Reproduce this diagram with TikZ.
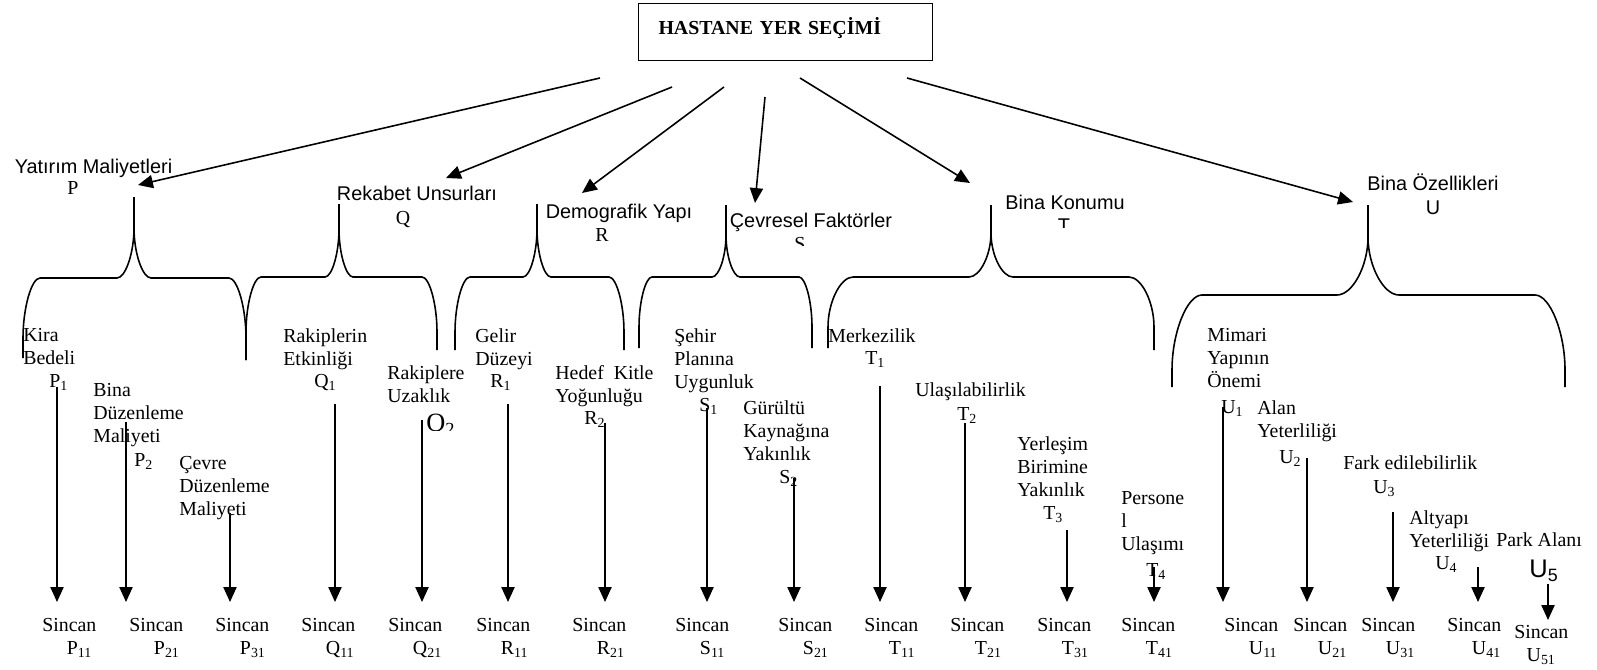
\documentclass[tikz,border=0pt]{standalone}
\usepackage{fontspec}
\setmainfont{Liberation Serif}
\setsansfont{Liberation Sans}
\usetikzlibrary{arrows.meta}
\tikzset{
  cat/.style={font=\sffamily\fontsize{11.3}{13.2}\selectfont,inner sep=0pt,anchor=base},
  letter/.style={font=\fontsize{11.3}{13.2}\selectfont,inner sep=0pt,anchor=base},
  leaf/.style={font=\fontsize{11.3}{13.2}\selectfont,align=left,inner sep=0pt,anchor=north west},
  lbl/.style={font=\fontsize{11.3}{13.2}\selectfont,inner sep=0pt,anchor=base west},
  brace/.style={line width=0.9pt},
  arr/.style={line width=0.9pt,-{Triangle[length=8.5pt,width=7.5pt]}},
}
\begin{document}
\begin{tikzpicture}[x=0.2mm,y=-0.2mm]
    \useasboundingbox (0,0) rectangle (1597,669);
    \node[draw,line width=0.6pt,anchor=north west,font=\bfseries\fontsize{11.3}{13.2}\selectfont,
      text width=5.08cm,align=left,inner xsep=0.4cm,inner ysep=0.1cm,text height=0.512cm,text depth=0.428cm]
      (title) at (638,3) {HASTANE YER SEÇİMİ};
    \foreach \nm/\x/\y/\txt in {cP/93.5/166/Yatırım Maliyetleri,cQ/417/193/Rekabet Unsurları,cR/619/211/Demografik Yapı,
      cS/811/220/Çevresel Faktörler,cT/1065/202/Bina Konumu,cU/1433/183/Bina Özellikleri}{
      \node[cat] (\nm) at (\x,\y+7.1) {\txt};
    }
    \node[letter] (kP) at (73,194.6) {P};
    \node[letter] (kQ) at (403,224.6) {Q};
    \node[letter] (kR) at (602,241.6) {R};
    \begin{scope}
      \clip (760,200) rectangle (840,245);
      \node[letter] (kS) at (800,250.6) {S};
    \end{scope}
    \begin{scope}
      \clip (1030,200) rectangle (1100,227);
      \node[letter,font=\sffamily\fontsize{11.3}{13.2}\selectfont] (kT) at (1064,232.1) {T};
    \end{scope}
    \node[letter,font=\sffamily\fontsize{11.3}{13.2}\selectfont] (kU) at (1433,214.1) {U};
    \foreach \nm/\sx/\sy/\ex/\ey in {P/600/78/138/185,Q/672/87/446/178,R/724/87/582/193,
      S/765/97/755/203,T/800/78/970/183,U/907/78/1353/202}{
      \coordinate (from\nm) at (\sx,\sy);
      \coordinate (to\nm) at (\ex,\ey);
      \draw[arr] (from\nm) -- (to\nm);
    }
    \foreach \bc/\bt/\bh/\bfw/\bfh/\bxl/\byl/\bxr/\byr/\bcw/\bcd in {
      134/197/278/17/50/23/358/246/360/17/60,
      339/204/277/14/48/246/360/437/350/15/55,
      537/204/277/14/48/455/350/624/350/15/55,
      726/205/277/14/42/639/348/812/348/13/50,
      991/205/277/22/44/828/348/1154/350/25/50,
      1368/205/295/31/58/1172/387/1565/387/30/75}{
      \draw[brace] (\bxl,\byl) -- (\bxl,\bh+\bcd) .. controls (\bxl,\bh+0.5*\bcd) and (\bxl+0.5*\bcw,\bh) .. (\bxl+\bcw,\bh)
        -- (\bc-\bfw,\bh) .. controls (\bc-0.5*\bfw,\bh) and (\bc,\bh-0.5*\bfh) .. (\bc,\bh-\bfh) -- (\bc,\bt)
        (\bc,\bh-\bfh) .. controls (\bc,\bh-0.5*\bfh) and (\bc+0.5*\bfw,\bh) .. (\bc+\bfw,\bh) -- (\bxr-\bcw,\bh)
        .. controls (\bxr-0.5*\bcw,\bh) and (\bxr,\bh+0.5*\bcd) .. (\bxr,\bh+\bcd) -- (\bxr,\byr);
    }
    \foreach \nm/\x/\y/\txt in {kira/23/335/{Kira\\Bedeli},binad/93/390/{Bina\\Düzenleme\\Maliyeti},
      cevre/179/463/{Çevre\\Düzenleme\\Maliyeti},rakip/283/335/{Rakiplerin\\Etkinliği},
      uzak/387/372/{Rakiplere\\Uzaklık},gelir/475/335/{Gelir\\Düzeyi},hedef/555/372/{Hedef~~Kitle\\Yoğunluğu},
      sehir/674/335/{Şehir\\Planına\\Uygunluk},gurultu/743/407/{Gürültü\\Kaynağına\\Yakınlık},
      merkez/828/335/{Merkezilik},ulas/915/389/{Ulaşılabilirlik},yerlesim/1017/443/{Yerleşim\\Birimine\\Yakınlık},
      personel/1121/498/{Persone\\l\\Ulaşımı},mimari/1207/335/{Mimari\\Yapının\\Önemi},
      alan/1257/407/{Alan\\Yeterliliği},fark/1343/462/{Fark edilebilirlik},
      altyapi/1409/517/{Altyapı\\Yeterliliği},park/1496/539/{Park Alanı}}{
      \node[leaf] (\nm) at (\x,\y-7) {\txt};
    }
    \foreach \nm/\x/\y/\txt in {lP1/49/381/{P\textsubscript{1}},lP2/134/460/{P\textsubscript{2}},
      lQ1/314/381/{Q\textsubscript{1}},lR1/490/381/{R\textsubscript{1}},lR2/584/418/{R\textsubscript{2}},
      lS1/699/405/{S\textsubscript{1}},lS2/779/477/{S\textsubscript{2}},lT1/865/358/{T\textsubscript{1}},
      lT2/957/414/{T\textsubscript{2}},lT3/1043/513/{T\textsubscript{3}},lT4/1146/570/{T\textsubscript{4}},
      lU1/1221/407/{U\textsubscript{1}},lU2/1279/457/{U\textsubscript{2}},lU3/1373/487/{U\textsubscript{3}},
      lU4/1435/563/{U\textsubscript{4}}}{
      \node[lbl] (\nm) at (\x,\y+6.6) {\txt};
    }
    \begin{scope}
      \clip (410,395) rectangle (475,430);
      \node[lbl,font=\fontsize{15}{15}\selectfont] (lQ2) at (426,431.7) {Q\textsubscript{2}};
    \end{scope}
    \node[lbl,font=\sffamily\fontsize{14.5}{15}\selectfont] (lU5) at (1529,577.2) {U\textsubscript{5}};
    \foreach \nm/\x/\lab in {sP11/42/P\textsubscript{11},sP21/129/P\textsubscript{21},sP31/215/P\textsubscript{31},
      sQ11/301/Q\textsubscript{11},sQ21/388/Q\textsubscript{21},sR11/476/R\textsubscript{11},sR21/572/R\textsubscript{21},
      sS11/675/S\textsubscript{11},sS21/778/S\textsubscript{21},sT11/864/T\textsubscript{11},sT21/950/T\textsubscript{21},
      sT31/1037/T\textsubscript{31},sT41/1121/T\textsubscript{41},sU11/1224/U\textsubscript{11},
      sU21/1293/U\textsubscript{21},sU31/1361/U\textsubscript{31},sU41/1447/U\textsubscript{41}}{
      \node[leaf] (\nm) at (\x,618) {Sincan\\\hspace*{14pt}\lab};
    }
    \node[leaf] (sU51) at (1514,625) {Sincan\\\hspace*{7pt}U\textsubscript{51}};
    \foreach \a/\x/\y/\s in {P1/57/387/sP11,P2/126/422/sP21,P3/230/513/sP31,Q1/335/404/sQ11,Q2/422/420/sQ21,
      R1/508/404/sR11,R2/605/423/sR21,S1/707/408/sS11,S2/794/478/sS21,T1/880/386/sT11,T2/965/423/sT21,
      T3/1067/530/sT31,T4/1154/567/sT41,U1/1223/407/sU11,U2/1307/458/sU21,U3/1393/512/sU31,U4/1478/567/sU41}{
      \coordinate (a\a) at (\x,\y);
      \draw[arr,shorten >=3.2mm] (a\a) -- (a\a |- \s.north);
    }
    \coordinate (aU5) at (1548,584);
    \draw[arr,shorten >=1mm] (aU5) -- (aU5 |- sU51.north);
  \end{tikzpicture}
\end{document}
